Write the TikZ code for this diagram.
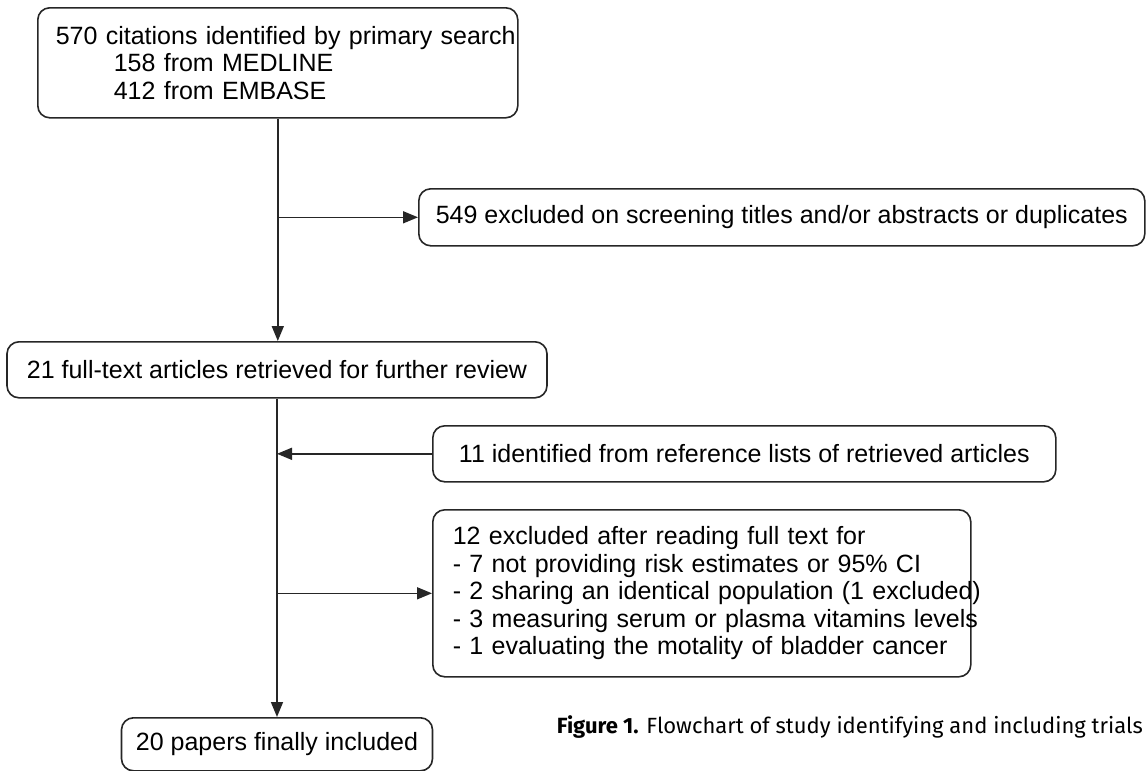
\documentclass[tikz,border=0pt]{standalone}
\usepackage{fontspec}
\setmainfont{Liberation Sans}
\newfontfamily\capfont{Fira Sans}
\usetikzlibrary{arrows.meta}

\begin{document}
\begin{tikzpicture}
% Flowchart of the study selection
\providecommand{\flowLineColor}{black!85}
\providecommand{\flowLineWidth}{1.6pt}
\providecommand{\flowBoxRadius}{12pt}
\begin{scope}[x=1pt, y=-1pt,
  flowbox/.style={draw=\flowLineColor, line width=\flowLineWidth, rounded corners=\flowBoxRadius, inner sep=0pt, font=\fontsize{25pt}{27.5pt}\selectfont},
  flowarrow/.style={draw=\flowLineColor, line width=\flowLineWidth, -{Triangle[length=15pt, width=12pt]}}]
  \useasboundingbox (0,0) rectangle (1146,771);
  % Main column
  \node[flowbox, anchor=north west, text width=444pt, inner xsep=18pt, minimum height=110pt, align=left] (search) at (37,7)
    {\mbox{570 citations identified by primary search}\\
     \hspace*{58pt}158 from MEDLINE\\
     \hspace*{58pt}412 from EMBASE};
  \node[flowbox, anchor=north, minimum width=540pt, minimum height=56pt] (review) at (277,341)
    {21 full-text articles retrieved for further review};
  \node[flowbox, anchor=north, minimum width=311pt, minimum height=53pt] (final) at (277,717)
    {20 papers finally included};
  % Side boxes
  \node[flowbox, anchor=north west, minimum width=726pt, minimum height=57pt] (screen) at (418,188)
    {549 excluded on screening titles and/or abstracts or duplicates};
  \node[flowbox, anchor=north west, minimum width=623pt, minimum height=56pt] (extra) at (432,425)
    {11 identified from reference lists of retrieved articles};
  \node[flowbox, anchor=north west, text width=498pt, inner xsep=20pt, minimum height=167pt, align=left] (fulltext) at (432,509)
    {12 excluded after reading full text for\\
     \mbox{- 7 not providing risk estimates or 95\% CI}\\
     \mbox{- 2 sharing an identical population (1 excluded)}\\
     \mbox{- 3 measuring serum or plasma vitamins levels}\\
     \mbox{- 1 evaluating the motality of bladder cancer}};
  % Caption
  \node[anchor=base east, inner sep=0pt, font=\capfont\fontsize{22pt}{26pt}\selectfont] (caption) at (1143,733)
    {\textbf{Figure 1.} Flowchart of study identifying and including trials};
  % Connectors
  \coordinate (toScreen) at (search.south |- screen.west);
  \coordinate (fromExtra) at (review.south |- extra.west);
  \coordinate (toFulltext) at (review.south |- fulltext.west);
  \draw[flowarrow] (search.south) -- (search.south |- review.north);
  \draw[flowarrow] (toScreen) -- (screen.west);
  \draw[flowarrow] (review.south) -- (review.south |- final.north);
  \draw[flowarrow] (extra.west) -- (fromExtra);
  \draw[flowarrow] (toFulltext) -- (fulltext.west);
\end{scope}
\end{tikzpicture}
\end{document}
